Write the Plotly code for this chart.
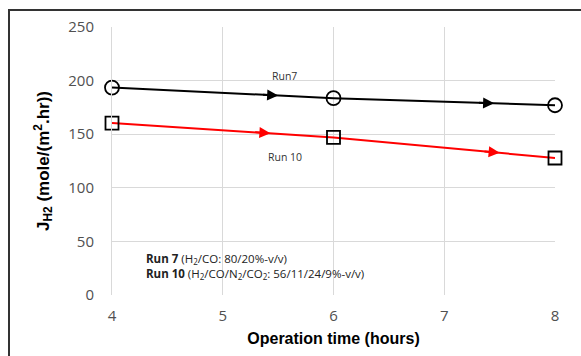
import plotly.graph_objects as go

hours = [4, 6, 8]
run7 = [193.5, 183.6, 177.0]
run10 = [160.4, 147.0, 127.8]
arrow_x7 = [5.5, 7.45]
arrow_x10 = [5.43, 7.5]

x_ticks = [4, 5, 6, 7, 8]
y_ticks = [0, 50, 100, 150, 200, 250]

def interp(xs, ys, x):
    for i in range(len(xs) - 1):
        if xs[i] <= x <= xs[i + 1]:
            t = (x - xs[i]) / (xs[i + 1] - xs[i])
            return ys[i] + t * (ys[i + 1] - ys[i])
    return ys[-1]

fig = go.Figure()
fig.add_trace(go.Scatter(
    x=hours, y=run7, mode="lines+markers", cliponaxis=False,
    line=dict(color="black", width=2),
    marker=dict(symbol="circle-open", size=14, color="black", line=dict(width=1.8)),
    showlegend=False))
fig.add_trace(go.Scatter(
    x=hours, y=run10, mode="lines+markers", cliponaxis=False,
    line=dict(color="#ff0000", width=2),
    marker=dict(symbol="square-open", size=13, color="black", line=dict(width=1.8)),
    showlegend=False))

annotations = []
for xs, ys, axs, col in [(hours, run7, arrow_x7, "black"), (hours, run10, arrow_x10, "#ff0000")]:
    for ax in axs:
        annotations.append(dict(
            x=ax, y=interp(xs, ys, ax), ax=ax - 0.15, ay=interp(xs, ys, ax - 0.15),
            xref="x", yref="y", axref="x", ayref="y", text="", showarrow=True,
            arrowhead=2, arrowsize=1.1, arrowwidth=2, arrowcolor=col, standoff=0))

annotations += [
    dict(x=5.56, y=204, xref="x", yref="y", text="Run7", showarrow=False,
         font=dict(family="Open Sans", size=10.5, color="#333")),
    dict(x=5.56, y=129, xref="x", yref="y", text="Run 10", showarrow=False,
         font=dict(family="Open Sans", size=10.5, color="#333")),
    dict(x=4.29, y=34, xref="x", yref="y", xanchor="left",
         text="<b>Run 7</b> (H<sub>2</sub>/CO: 80/20%-v/v)", showarrow=False,
         font=dict(family="Open Sans", size=11.5, color="#222")),
    dict(x=4.29, y=20, xref="x", yref="y", xanchor="left",
         text="<b>Run 10</b> (H<sub>2</sub>/CO/N<sub>2</sub>/CO<sub>2</sub>: 56/11/24/9%-v/v)",
         showarrow=False, font=dict(family="Open Sans", size=11.5, color="#222")),
]

fig.update_layout(
    width=581, height=356,
    margin=dict(l=112, r=26, t=27, b=59),
    plot_bgcolor="white", paper_bgcolor="white",
    annotations=annotations,
    shapes=[dict(type="rect", xref="paper", yref="paper",
                 x0=-0.2325, y0=-0.4, x1=1.2, y1=1.063,
                 line=dict(color="#333", width=2), layer="below")],
    xaxis=dict(range=[4, 8], tickvals=x_ticks, showgrid=True, gridcolor="#d9d9d9",
               zeroline=False, showline=False, ticks="",
               ticklabelstandoff=10,
               tickfont=dict(family="Open Sans", size=15, color="#505050"),
               title=dict(text="<b>Operation time (hours)</b>", standoff=8,
                          font=dict(family="Liberation Sans", size=16, color="black"))),
    yaxis=dict(range=[0, 250], tickvals=y_ticks, showgrid=True, gridcolor="#d9d9d9",
               zeroline=False, showline=True, linecolor="#d9d9d9", ticks="",
               tickfont=dict(family="Open Sans", size=15, color="#505050"),
               ticklabelstandoff=14,
               title=dict(text="<b>J<sub>H2</sub> (mole/(m<sup>2</sup>.hr))</b>", standoff=14,
                          font=dict(family="Liberation Sans", size=17, color="black"))),
)
fig.write_html("out.html")
